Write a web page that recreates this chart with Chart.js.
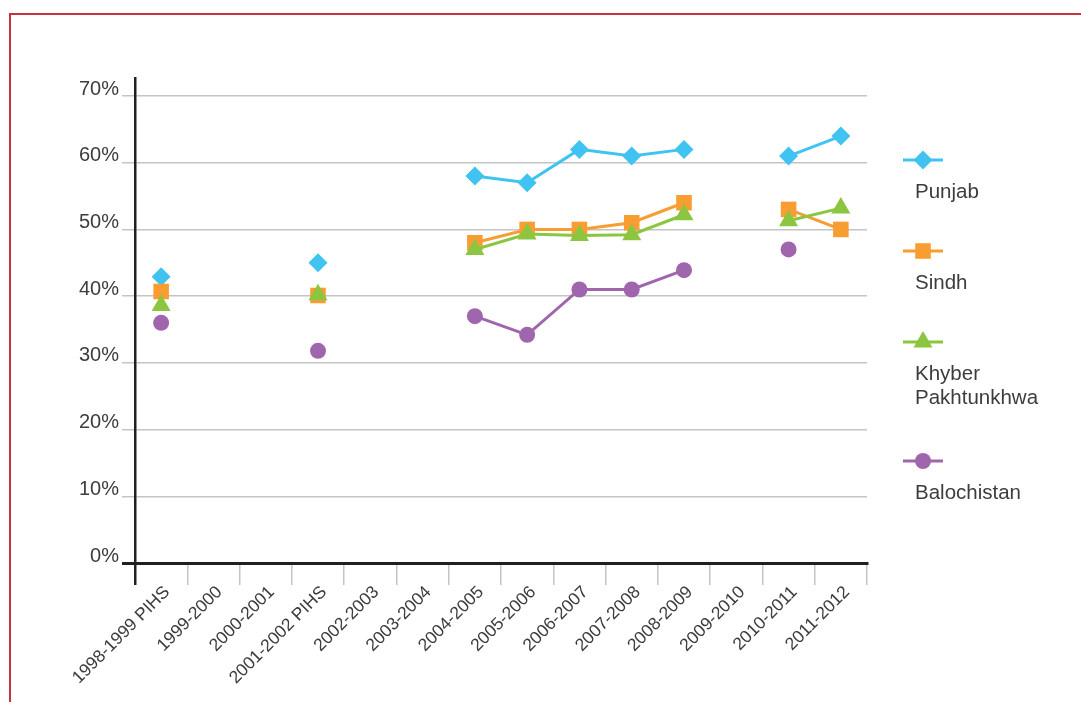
<!DOCTYPE html>
<html>
<head>
<meta charset="utf-8">
<script src="https://cdn.jsdelivr.net/npm/chart.js@4.4.1/dist/chart.umd.min.js"></script>
<style>
  html, body { margin: 0; padding: 0; background: #fff; }
  #wrap { position: relative; width: 1081px; height: 702px; overflow: hidden; }
  #frame {
    position: absolute; left: 9px; top: 13px; right: -10px; bottom: -10px;
    border-top: 2px solid #c6343e; border-left: 2px solid #c6343e;
  }
  canvas { position: absolute; left: 0; top: 0; }
</style>
</head>
<body>
<div id="wrap">
  <div id="frame"></div>
  <canvas id="rateChart" width="1081" height="702"></canvas>
</div>
<script>
// survey years
const years = ['1998-1999 PIHS', '1999-2000', '2000-2001', '2001-2002 PIHS', '2002-2003', '2003-2004',
  '2004-2005', '2005-2006', '2006-2007', '2007-2008', '2008-2009', '2009-2010', '2010-2011', '2011-2012'];

// rates by province (%), null = no survey that year
const punjab      = [42.9, null, null, 45.0, null, null, 58.0, 57.0, 62.0, 61.0, 62.0, null, 61.0, 64.0];
const sindh       = [40.7, null, null, 40.1, null, null, 48.0, 50.0, 50.0, 51.0, 54.0, null, 53.0, 50.0];
const kpk         = [38.6, null, null, 40.2, null, null, 47.0, 49.3, 49.1, 49.2, 52.2, null, 51.3, 53.2];
const balochistan = [36.0, null, null, 31.8, null, null, 37.0, 34.2, 41.0, 41.0, 43.9, null, 47.0, null];

const provinceNames = ['Punjab', 'Sindh', 'Khyber Pakhtunkhwa', 'Balochistan'];
const yTicks = [0, 10, 20, 30, 40, 50, 60, 70];

const AXIS = '#231f20';
const GRID = '#c4c4c4';
const TEXT = '#3c3c3c';
const FONT = "'Liberation Sans', Arial, Helvetica, sans-serif";

function series(label, data, color, style, radius, order) {
    return {
        label: label,
        data: data,
        borderColor: color,
        backgroundColor: color,
        borderWidth: 3,
        pointStyle: style,
        pointRadius: radius,
        pointHoverRadius: radius,
        pointBorderWidth: 0,
        pointBackgroundColor: color,
        spanGaps: false,
        tension: 0,
        order: order
    };
}

const datasets = [
    series(provinceNames[0], punjab, '#41c3f1', 'rectRot', 9.5, 4),
    series(provinceNames[1], sindh, '#f89d32', 'rect', 11, 3),
    series(provinceNames[2], kpk, '#8cc540', 'triangle', 11, 1),
    series(provinceNames[3], balochistan, '#a066ad', 'circle', 8, 2)
];

// legend on the right: marker with line, name underneath
const sideLegend = {
    id: 'sideLegend',
    afterDraw(chart) {
        const ctx = chart.ctx;
        const markerY = [160, 251, 342, 461];
        ctx.save();
        chart.data.datasets.forEach((ds, i) => {
            const y = markerY[i];
            ctx.strokeStyle = ds.borderColor;
            ctx.lineWidth = 3;
            ctx.beginPath();
            ctx.moveTo(903, y);
            ctx.lineTo(943, y);
            ctx.stroke();
            ctx.fillStyle = ds.borderColor;
            Chart.helpers.drawPoint(ctx, {
                pointStyle: ds.pointStyle,
                radius: ds.pointRadius,
                rotation: 0,
                borderWidth: 0
            }, 923, y);

            ctx.fillStyle = TEXT;
            ctx.font = '20.5px ' + FONT;
            ctx.textAlign = 'left';
            ctx.textBaseline = 'alphabetic';
            const words = ds.label === 'Khyber Pakhtunkhwa' ? ['Khyber', 'Pakhtunkhwa'] : [ds.label];
            words.forEach((w, k) => ctx.fillText(w, 915, y + 38 + k * 24));
        });
        ctx.restore();
    }
};

new Chart(document.getElementById('rateChart').getContext('2d'), {
    type: 'line',
    data: { labels: years, datasets: datasets },
    plugins: [sideLegend],
    options: {
        responsive: false,
        animation: false,
        layout: { padding: { left: 0, top: 78, right: 214, bottom: 0 } },
        plugins: {
            legend: { display: false },
            tooltip: { enabled: false }
        },
        scales: {
            x: {
                offset: true,
                afterFit(scale) { scale.height = 139; },
                grid: {
                    offset: true,
                    drawOnChartArea: false,
                    drawTicks: true,
                    tickLength: 22,
                    color: c => c.index === 0 ? AXIS : GRID,
                    lineWidth: c => c.index === 0 ? 2.5 : 1.5
                },
                border: { display: true, color: AXIS, width: 3 },
                ticks: {
                    minRotation: 45,
                    maxRotation: 45,
                    autoSkip: false,
                    padding: -3,
                    labelOffset: 6,
                    color: TEXT,
                    font: { family: FONT, size: 17.5 }
                }
            },
            y: {
                min: 0,
                max: 72.7,
                afterFit(scale) { scale.width = 135; },
                afterBuildTicks(scale) { scale.ticks = yTicks.map(v => ({ value: v })); },
                grid: {
                    drawTicks: true,
                    tickLength: 13,
                    color: c => c.tick && c.tick.value === 0 ? AXIS : GRID,
                    lineWidth: c => c.tick && c.tick.value === 0 ? 3 : 1.5
                },
                border: { display: true, color: AXIS, width: 2.5 },
                ticks: {
                    padding: 3,
                    labelOffset: -7,
                    color: TEXT,
                    font: { family: FONT, size: 20 },
                    callback: v => v + '%'
                }
            }
        }
    }
});
</script>
</body>
</html>
